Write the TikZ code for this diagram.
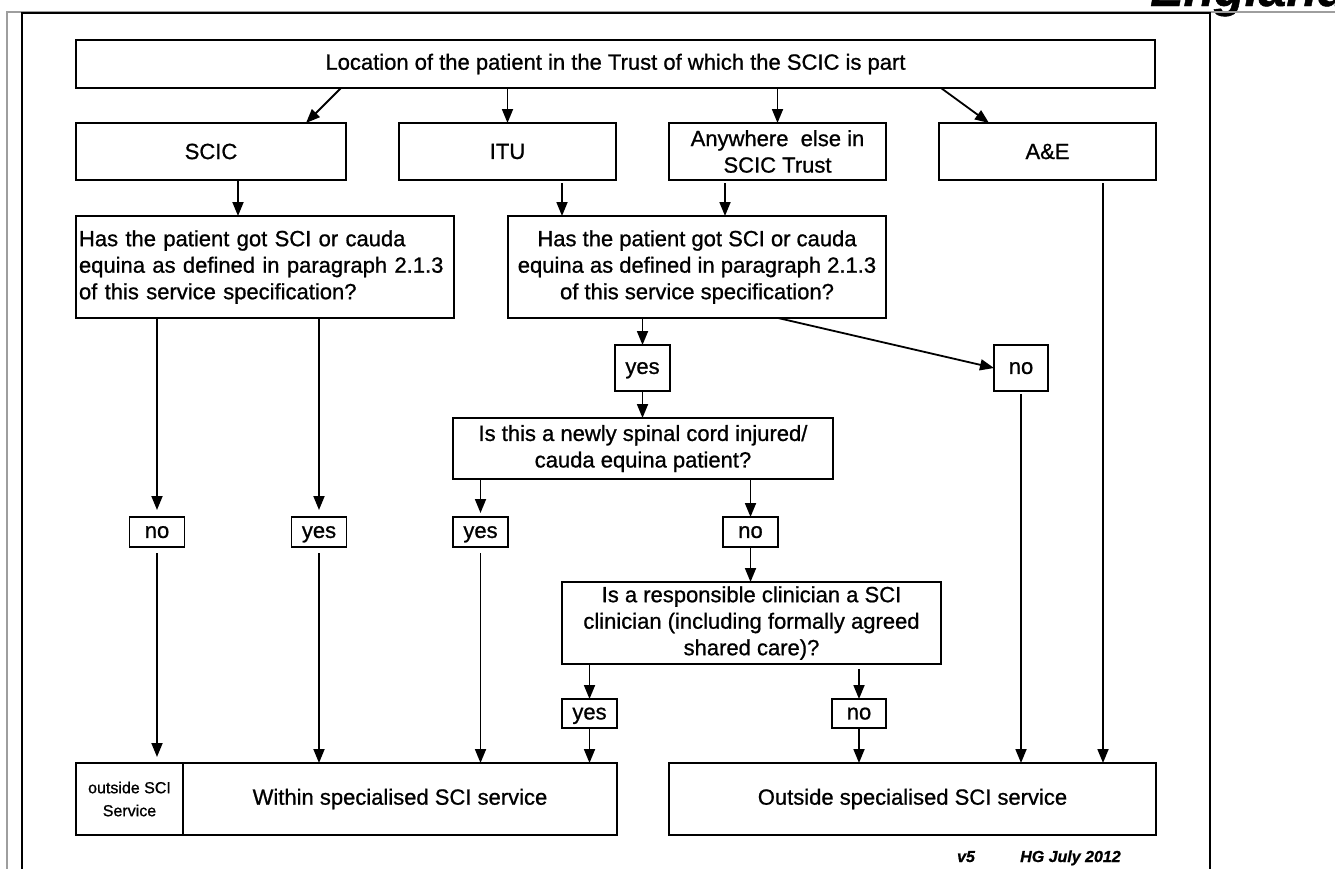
\documentclass[tikz,border=0pt]{standalone}
\usepackage{fontspec}
\setmainfont{Liberation Sans}[FakeBold=0.9]
\usetikzlibrary{arrows.meta}
\newcommand\myfs{\fontsize{22}{26.5}\selectfont}
\newcommand\mysmallfs{\fontsize{16}{23}\selectfont}
\begin{document}
\begin{tikzpicture}[x=1pt,y=-1pt,
  box/.style={draw, line width=1.6pt, inner sep=0pt, outer sep=0pt, align=center, font=\myfs},
  lbl/.style={box, text depth=0pt},
  arr/.style={line width=1.8pt, -{Triangle[length=14pt,width=11pt]}},
  foot/.style={font=\fontsize{16}{16}\selectfont\bfseries\itshape, inner sep=0pt, anchor=base}]
\clip (0,0) rectangle (1335,868);
\fill[white] (0,0) rectangle (1335,868);
% header text (cut off)
\node[anchor=base west, inner sep=0pt, font=\fontsize{50}{50}\selectfont\bfseries\itshape] (eng) at (1150,6) {England};
% frames
\draw[black!38, line width=2pt] (7,880) -- (7,12) -- (1340,12);
\draw[line width=2pt] (22,880) -- (22,12.5) -- (1210,12.5) -- (1210,880);
% nodes
\node[box, minimum width=1079pt, minimum height=48pt] (top) at (615.5,64) {Location of the patient in the Trust of which the SCIC is part};
\node[box, minimum width=270pt, minimum height=57pt] (scic) at (211,151.5) {SCIC};
\node[box, minimum width=217pt, minimum height=57pt] (itu) at (507.5,151.5) {ITU};
\node[box, minimum width=217pt, minimum height=57pt] (any) at (777.5,151.5) {Anywhere\ \ else in\\SCIC Trust};
\node[box, minimum width=217pt, minimum height=57pt] (ae) at (1047.5,151.5) {A\&E};
\node[box, minimum width=378pt, minimum height=102pt, align=left, text width=372pt] (q1) at (265,267) {Has the patient got SCI or cauda\\equina as defined in paragraph 2.1.3\\of this service specification?};
\node[box, minimum width=378pt, minimum height=102pt] (q2) at (697,267) {Has the patient got SCI or cauda\\equina as defined in paragraph 2.1.3\\of this service specification?};
\node[lbl, minimum width=55pt, minimum height=46pt] (yesA) at (642.5,368) {yes};
\node[lbl, minimum width=54pt, minimum height=46pt] (noA) at (1021,368) {no};
\node[box, minimum width=380pt, minimum height=61pt] (q3) at (643,448.5) {Is this a newly spinal cord injured/\\cauda equina patient?};
\node[lbl, minimum width=55pt, minimum height=30pt] (no1) at (157,532) {no};
\node[lbl, minimum width=55pt, minimum height=30pt] (yes1) at (319,532) {yes};
\node[lbl, minimum width=55pt, minimum height=30pt] (yes2) at (480.5,532) {yes};
\node[lbl, minimum width=55pt, minimum height=30pt] (no2) at (750.5,532) {no};
\node[box, minimum width=379pt, minimum height=82pt] (q4) at (751.5,623) {Is a responsible clinician a SCI\\clinician (including formally agreed\\shared care)?};
\node[lbl, minimum width=55pt, minimum height=29pt] (yes3) at (589.5,713.5) {yes};
\node[lbl, minimum width=54pt, minimum height=29pt] (no3) at (859,713.5) {no};
\node[box, minimum width=107pt, minimum height=72pt, font=\mysmallfs] (small) at (129.5,799) {outside SCI\\Service};
\node[box, minimum width=434pt, minimum height=72pt] (within) at (400,799) {Within specialised SCI service};
\node[box, minimum width=487pt, minimum height=72pt] (outside) at (912.5,799) {Outside specialised SCI service};
% footer
\node[foot] (ver) at (966,862) {v5};
\node[foot, anchor=base west] (hg) at (1020,862) {HG July 2012};
% connectors
\draw[arr] ([xshift=-274.5pt]top.south) -- ([xshift=95pt]scic.north);
\draw[arr] (top.south -| itu.north) -- (itu.north);
\draw[arr] (top.south -| any.north) -- (any.north);
\draw[arr] ([xshift=325.5pt]top.south) -- ([xshift=-58.5pt]ae.north);
\draw[arr] ([xshift=27pt]scic.south) -- ([xshift=27pt]scic.south |- q1.north);
\draw[arr, shorten <=3pt] ([xshift=54.5pt]itu.south) -- ([xshift=54.5pt]itu.south |- q2.north);
\draw[arr, shorten <=3pt] ([xshift=-52.5pt]any.south) -- ([xshift=-52.5pt]any.south |- q2.north);
\draw[arr, shorten <=3pt] ([xshift=55.5pt]ae.south) -- ([xshift=55.5pt]ae.south |- outside.north);
\draw[arr, shorten >=7pt] (q1.south -| no1.north) -- (no1.north);
\draw[arr, shorten >=7pt] (q1.south -| yes1.north) -- (yes1.north);
\draw[arr] (q2.south -| yesA.north) -- (yesA.north);
\draw[arr] ([xshift=81pt]q2.south) -- (noA.west);
\draw[arr] (yesA.south) -- (yesA.south |- q3.north);
\draw[arr, shorten >=4pt] (q3.south -| yes2.north) -- (yes2.north);
\draw[arr] (q3.south -| no2.north) -- (no2.north);
\draw[arr] (no2.south) -- (no2.south |- q4.north);
\draw[arr] (q4.south -| yes3.north) -- (yes3.north);
\draw[arr, shorten <=5pt] (q4.south -| no3.north) -- (no3.north);
\draw[arr, shorten <=6pt, shorten >=6pt] (no1.south) -- (no1.south |- small.north);
\draw[arr, shorten <=6pt] (yes1.south) -- (yes1.south |- within.north);
\draw[arr, shorten <=6pt] (yes2.south) -- (yes2.south |- within.north);
\draw[arr] (yes3.south) -- (yes3.south |- within.north);
\draw[arr] (no3.south) -- (no3.south |- outside.north);
\draw[arr, shorten <=3pt] (noA.south) -- (noA.south |- outside.north);
\end{tikzpicture}
\end{document}
